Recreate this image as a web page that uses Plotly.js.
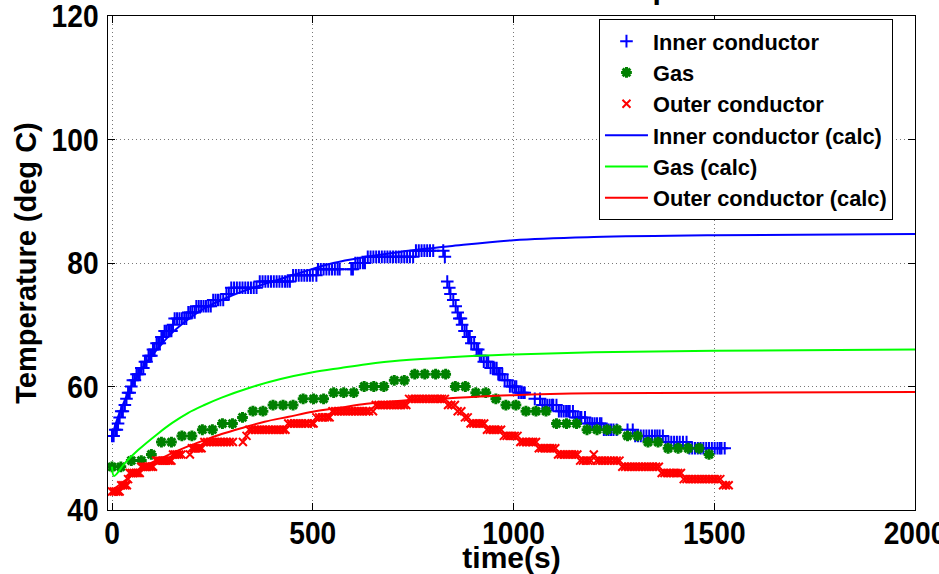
<!DOCTYPE html>
<html>
<head>
<meta charset="utf-8">
<script src="https://cdn.plot.ly/plotly-3.0.1.min.js"></script>
<style>html,body{margin:0;padding:0;background:#fff;}#chart{width:939px;height:574px;}</style>
</head>
<body>
<div id="chart"></div>
<script>
const innerTime = [0,4,8,12,15,19,23,27,32,36,40,44,48,52,57,61,65,69,73,78,82,86,91,95,98,102,106,111,115,119,123,127,131,135,140,144,148,152,156,162,168,174,180,185,190,195,200,206,210,216,222,228,234,240,246,252,258,264,270,277,285,291,297,304,311,318,325,332,339,346,353,360,368,375,382,389,396,403,410,417,424,431,437,443,451,458,465,472,479,486,493,500,509,513,520,527,534,541,548,555,562,567,596,600,606,612,618,625,630,637,644,651,658,665,672,679,686,693,700,707,714,721,728,735,742,750,757,764,771,778,785,792,800,825,829,835,840,843,850,856,861,865,869,872,878,883,887,891,895,902,908,912,916,920,926,933,937,943,949,953,958,962,966,972,978,985,991,997,1003,1007,1013,1019,1024,1028,1053,1066,1072,1078,1084,1090,1096,1099,1107,1113,1119,1125,1131,1136,1140,1148,1154,1160,1166,1169,1178,1184,1190,1196,1202,1208,1215,1219,1225,1231,1237,1243,1249,1257,1284,1297,1303,1310,1317,1324,1331,1338,1345,1352,1358,1364,1372,1379,1386,1393,1400,1407,1414,1422,1431,1438,1445,1452,1459,1466,1473,1480,1487,1494,1501,1508,1514,1518,1526];
const innerTemp = [52,52,53,53,54,55,56,56,57,58,59,59,60,61,61,62,62,62,63,63,64,64,65,65,65,66,66,67,67,67,68,68,69,69,69,69,69,70,71,71,71,71,71,71,72,72,72,72,73,73,73,73,73,73,73,74,74,74,74,74,75,75,76,76,76,76,76,76,76,76,76,76,77,77,77,77,77,77,77,77,77,77,77,77,78,78,78,78,78,78,78,78,78,79,79,79,79,79,79,79,79,79,79,79,80,80,80,80,80,81,81,81,81,81,81,81,81,81,81,81,81,81,81,81,81,81,82,82,82,82,82,82,82,82,81,77,76,75,74,73,72,71,71,70,69,69,68,68,67,67,66,66,65,65,64,64,64,63,63,63,63,62,62,62,61,61,60,60,60,60,59,59,59,59,58,58,57,57,57,57,57,57,57,56,56,56,56,56,56,56,55,55,55,55,55,54,54,54,54,54,54,54,53,53,53,53,53,53,53,53,52,52,52,52,52,52,52,52,52,52,52,51,51,51,51,51,51,51,51,50,50,50,50,50,50,50,50,50,50,50,50,50,50,49];

const gasTime = [0,22,48,73,98,123,148,174,199,225,250,275,300,325,351,376,401,426,451,476,502,527,552,577,602,628,652,677,703,728,754,779,806,831,855,880,906,931,956,981,1006,1031,1056,1081,1107,1132,1157,1183,1208,1233,1258,1284,1309,1335,1360,1385,1410,1435,1462,1487];
const gasTemp = [47,47,48,48,49,51,51,52,52,53,53,54,54,55,56,56,57,57,57,58,58,58,59,59,59,60,60,60,61,61,62,62,62,62,60,60,59,59,58,57,57,56,56,56,54,54,54,53,53,53,53,52,52,51,51,50,50,50,50,49];

const outerTime = [0,5,10,15,19,23,28,33,37,40,44,49,54,59,64,69,73,78,83,88,93,98,102,110,115,120,125,130,135,140,144,148,152,157,162,167,173,194,199,204,209,214,218,223,230,237,244,251,258,265,272,279,286,293,301,326,335,342,349,356,363,370,377,384,391,398,405,412,419,426,432,439,446,453,460,467,474,481,488,497,502,509,516,523,530,537,542,549,556,563,570,577,584,591,598,605,612,619,626,633,640,650,657,664,671,678,685,692,699,706,713,720,727,733,740,747,754,761,768,775,782,789,796,803,810,817,822,829,837,845,854,861,870,879,886,893,900,907,914,920,927,934,941,948,955,962,969,976,983,990,997,1003,1010,1017,1024,1031,1038,1045,1049,1056,1063,1070,1077,1084,1091,1097,1104,1111,1118,1125,1132,1139,1146,1152,1159,1166,1173,1180,1186,1193,1200,1207,1214,1221,1228,1235,1242,1250,1257,1264,1271,1278,1285,1292,1299,1306,1313,1320,1327,1334,1341,1348,1355,1362,1369,1376,1383,1390,1397,1404,1410,1417,1424,1431,1438,1445,1452,1459,1466,1473,1480,1487,1494,1501,1508,1515,1522,1529,1536];
const outerTemp = [43,43,43,43,43,44,44,44,44,45,46,46,46,46,46,46,47,47,47,47,47,47,47,48,48,48,48,48,48,48,48,48,49,49,49,49,49,49,50,50,50,50,50,50,51,51,51,51,51,51,51,51,51,51,51,51,52,53,53,53,53,53,53,53,53,53,53,53,53,53,53,54,54,54,54,54,54,54,54,54,54,55,55,55,55,55,55,56,56,56,56,56,56,56,56,56,56,56,56,56,56,56,57,57,57,57,57,57,57,57,57,57,57,57,58,58,58,58,58,58,58,58,58,58,58,58,58,58,57,57,57,56,56,55,55,54,54,54,54,54,54,53,53,53,53,53,53,52,52,52,52,52,52,51,51,51,51,51,51,51,50,50,50,50,50,50,50,49,49,49,49,49,49,49,49,48,48,48,48,48,49,48,48,48,48,48,48,48,48,48,47,47,47,47,47,47,47,47,47,47,47,47,47,47,46,46,46,46,46,46,46,46,45,45,45,45,45,45,45,45,45,45,45,45,45,45,44,44,44,44,44];

// ---- Calculated curves ----
const innerCalcTime = [0,15,32,48,81,115,148,190,231,290,347,410,468,551,634,717,841,1000,1200,1500,2000];
const innerCalcTemp = [52.0,55.1,57.8,60.0,63.5,66.2,68.6,70.9,72.7,74.5,75.9,77.2,78.4,80.0,81.0,81.8,82.7,83.7,84.2,84.5,84.7];
const gasCalcTime = [0,5,32,65,115,150,189,230,273,343,420,500,570,634,717,841,1000,1200,1500,2000];
const gasCalcTemp = [47.0,45.5,47.6,49.7,52.4,54.1,55.7,57.0,58.2,59.8,61.2,62.3,63.0,63.6,64.2,64.75,65.2,65.55,65.8,66.0];
const outerCalcTime = [0,23,65,106,150,189,230,273,330,380,440,500,570,634,720,841,1000,1200,1500,2000];
const outerCalcTemp = [43.2,44.3,46.4,47.9,49.2,50.3,51.3,52.3,53.4,54.3,55.1,55.9,56.6,57.2,57.7,58.1,58.6,58.9,59.0,59.1];

const seriesNames = ['Inner conductor','Gas','Outer conductor','Inner conductor (calc)','Gas (calc)','Outer conductor (calc)'];
const xTicks = [0,500,1000,1500,2000];
const yTicks = [40,60,80,100,120];
const titleText = 'Measured and calculated temperatures';

const FONT = 'Liberation Sans, Arial, Helvetica, sans-serif';

const traces = [
  {x: innerTime, y: innerTemp, name: seriesNames[0], mode: 'markers', type: 'scatter',
   marker: {symbol: 'cross-thin-open', size: 9, color: '#0000ff', line: {color: '#0000ff', width: 2}}},
  {x: gasTime, y: gasTemp, name: seriesNames[1], mode: 'markers', type: 'scatter',
   marker: {symbol: 'asterisk-open', size: 9, color: '#008000', line: {color: '#008000', width: 3}}},
  {x: outerTime, y: outerTemp, name: seriesNames[2], mode: 'markers', type: 'scatter',
   marker: {symbol: 'x-thin-open', size: 8, color: '#ff0000', line: {color: '#ff0000', width: 2}}},
  {x: innerCalcTime, y: innerCalcTemp, name: seriesNames[3], mode: 'lines', type: 'scatter',
   line: {color: '#0000ff', width: 2, shape: 'spline', smoothing: 1}},
  {x: gasCalcTime, y: gasCalcTemp, name: seriesNames[4], mode: 'lines', type: 'scatter',
   line: {color: '#00ff00', width: 2, shape: 'spline', smoothing: 1}},
  {x: outerCalcTime, y: outerCalcTemp, name: seriesNames[5], mode: 'lines', type: 'scatter',
   line: {color: '#ff0000', width: 2, shape: 'spline', smoothing: 1}}
];

const axisCommon = {
  showline: true, linecolor: '#000', linewidth: 1, mirror: 'ticks',
  ticks: 'inside', ticklen: 7, tickcolor: '#000', tickwidth: 1,
  showgrid: true, gridcolor: '#777777', griddash: '1px,3px', gridwidth: 1,
  zeroline: false, ticklabeloverflow: 'allow',
  tickfont: {family: FONT, size: 32, color: '#000', weight: 'bold'}
};

const layout = {
  width: 939, height: 574,
  margin: {l: 108, r: 24, t: 16, b: 64},
  paper_bgcolor: '#fff', plot_bgcolor: '#fff',
  showlegend: true,
  font: {family: FONT, color: '#000'},
  xaxis: Object.assign({}, axisCommon, {
    range: [-10, 2000], tickvals: xTicks, ticktext: xTicks.map(String),
    ticklabelstandoff: -5,
    title: {text: 'time(s)', font: {family: FONT, size: 30, weight: 'bold', color: '#000'}, standoff: 7}
  }),
  yaxis: Object.assign({}, axisCommon, {
    range: [40, 120], tickvals: yTicks, ticktext: yTicks.map(String),
    ticklabelstandoff: 2,
    title: {text: 'Temperature (deg C)', font: {family: FONT, size: 29, weight: 'bold', color: '#000'}, standoff: 0}
  }),
  legend: {
    x: 0.9727, xanchor: 'right', y: 0.993, yanchor: 'top',
    bgcolor: '#fff', bordercolor: '#000', borderwidth: 1,
    font: {family: FONT, size: 21.8, weight: 'bold', color: '#000'},
    itemwidth: 43, tracegroupgap: 0
  },
  annotations: [{
    text: titleText, xref: 'paper', yref: 'paper', x: 0.5, y: 1.018, xanchor: 'center', yanchor: 'bottom',
    showarrow: false, font: {family: FONT, size: 30, weight: 'bold', color: '#000'}
  }],
  hovermode: false
};

Plotly.newPlot('chart', traces, layout, {displayModeBar: false, staticPlot: true}).then(function (gd) {
  // the reference's tick labels are horizontally condensed: squeeze them a little
  gd.querySelectorAll('.xtick text, .ytick text').forEach(function (t) {
    const w = t.getComputedTextLength();
    if (w > 0) {
      t.setAttribute('textLength', (w * 0.88).toFixed(1));
      t.setAttribute('lengthAdjust', 'spacingAndGlyphs');
    }
  });
});
</script>
</body>
</html>
